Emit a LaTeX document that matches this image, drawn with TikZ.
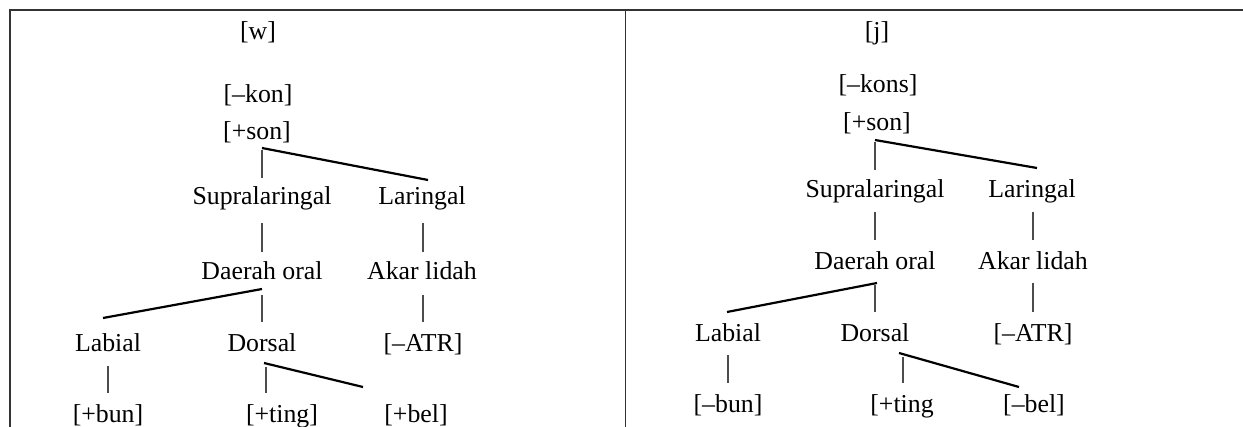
\documentclass[tikz,border=0pt]{standalone}
\usepackage{fontspec}
\setmainfont{Liberation Serif}
\usetikzlibrary{calc}
\begin{document}
\begin{tikzpicture}[x=1pt,y=-1pt,
  lbl/.style={font=\fontsize{25.8}{30}\selectfont, inner sep=0pt, anchor=base},
  stem/.style={line width=1.1pt, draw=black!70},
  branch/.style={line width=2.2pt, draw=black},
  frame/.style={line width=1.5pt, draw=black!80}]
\useasboundingbox (0,0) rectangle (1243,427);

% table frame
\draw[frame] (10,427) -- (10,10) -- (1243,10);
\draw[frame] (625.5,10) -- (625.5,427);

% ---- left tree: [w]
\node[lbl] (w)     at (258,40)  {[w]};
\node[lbl] (kon)   at (258,103) {[–kon]};
\node[lbl] (son)   at (257,140) {[+son]};
\node[lbl] (supL)  at (262,205) {Supralaringal};
\node[lbl] (larL)  at (422,205) {Laringal};
\node[lbl] (daeL)  at (262,280) {Daerah oral};
\node[lbl] (akaL)  at (422,280) {Akar lidah};
\node[lbl] (labL)  at (108,352) {Labial};
\node[lbl] (dorsL) at (262,352) {Dorsal};
\node[lbl] (atrL)  at (423,352) {[–ATR]};
\node[lbl] (bunL)  at (108,423) {[+bun]};
\node[lbl] (tingL) at (282,423) {[+ting]};
\node[lbl] (belL)  at (416,423) {[+bel]};

\draw[stem]   ($(son.base)+(5,10)$)   -- ($(supL.base)+(0,-27)$);
\draw[branch] ($(son.base)+(5,8)$)    -- ($(larL.base)+(6,-25)$);
\draw[stem]   ($(supL.base)+(0,18)$)  -- ($(daeL.base)+(0,-28)$);
\draw[stem]   ($(larL.base)+(1,18)$)  -- ($(akaL.base)+(1,-28)$);
\draw[branch] ($(daeL.base)+(0,9)$)   -- ($(labL.base)+(-5,-34)$);
\draw[stem]   ($(daeL.base)+(0,15)$)  -- ($(dorsL.base)+(0,-30)$);
\draw[stem]   ($(akaL.base)+(1,15)$)  -- ($(atrL.base)+(0,-30)$);
\draw[stem]   ($(labL.base)+(0,14)$)  -- ($(bunL.base)+(0,-30)$);
\draw[stem]   ($(dorsL.base)+(4,15)$) -- ($(tingL.base)+(-16,-30)$);
\draw[branch] ($(dorsL.base)+(2,11)$) -- ($(belL.base)+(-53,-36)$);

% ---- right tree: [j]
\node[lbl] (j)     at (877,40)  {[j]};
\node[lbl] (konsR) at (878,93)  {[–kons]};
\node[lbl] (sonR)  at (877,131) {[+son]};
\node[lbl] (supR)  at (875,198) {Supralaringal};
\node[lbl] (larR)  at (1032,198) {Laringal};
\node[lbl] (daeR)  at (875,270) {Daerah oral};
\node[lbl] (akaR)  at (1033,270) {Akar lidah};
\node[lbl] (labR)  at (728,342) {Labial};
\node[lbl] (dorsR) at (875,342) {Dorsal};
\node[lbl] (atrR)  at (1033,342) {[–ATR]};
\node[lbl] (bunR)  at (728,413) {[–bun]};
\node[lbl] (tingR) at (902,413) {[+ting};
\node[lbl] (belR)  at (1034,413) {[–bel]};

\draw[stem]   ($(sonR.base)+(-2,11)$)  -- ($(supR.base)+(0,-28)$);
\draw[branch] ($(sonR.base)+(-2,9)$)   -- ($(larR.base)+(5,-30)$);
\draw[stem]   ($(supR.base)+(0,14)$)   -- ($(daeR.base)+(0,-30)$);
\draw[stem]   ($(larR.base)+(1,14)$)   -- ($(akaR.base)+(0,-30)$);
\draw[branch] ($(daeR.base)+(2,13)$)   -- ($(labR.base)+(-1,-30)$);
\draw[stem]   ($(daeR.base)+(0,15)$)   -- ($(dorsR.base)+(0,-30)$);
\draw[stem]   ($(akaR.base)+(0,13)$)   -- ($(atrR.base)+(0,-30)$);
\draw[stem]   ($(labR.base)+(0,13)$)   -- ($(bunR.base)+(0,-30)$);
\draw[stem]   ($(dorsR.base)+(28,15)$) -- ($(tingR.base)+(1,-30)$);
\draw[branch] ($(dorsR.base)+(24,11)$) -- ($(belR.base)+(-15,-26)$);
\end{tikzpicture}
\end{document}
